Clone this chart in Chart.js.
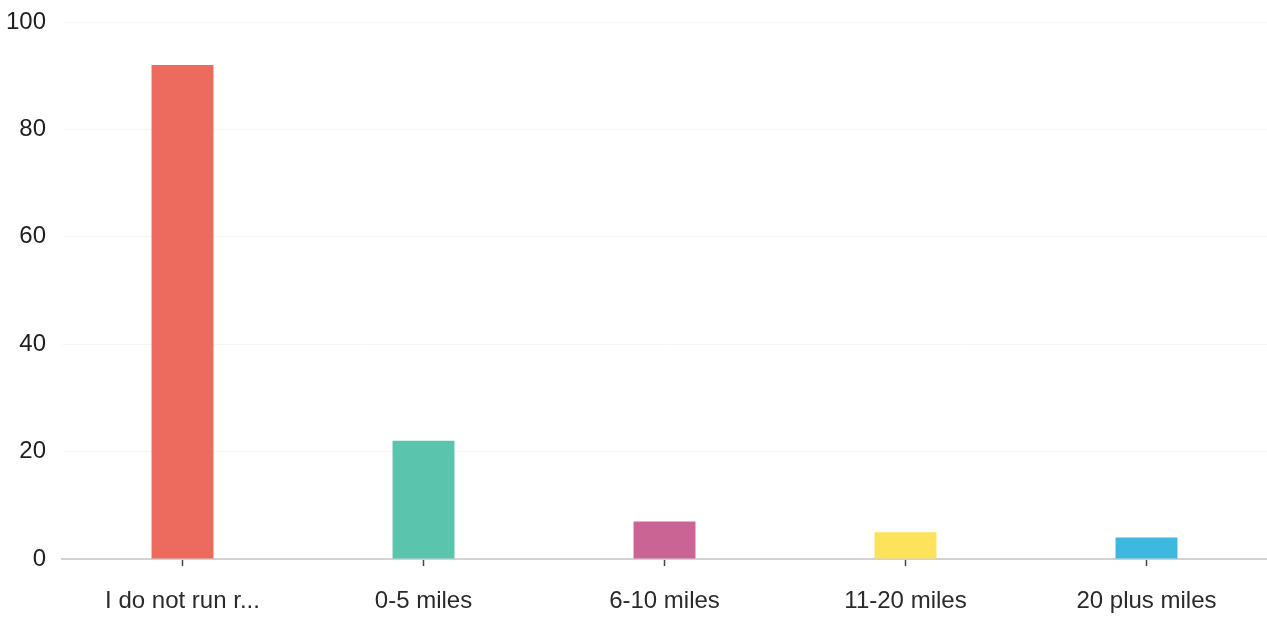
<!DOCTYPE html>
<html>
<head>
<meta charset="utf-8">
<script src="https://cdn.jsdelivr.net/npm/chart.js@4/dist/chart.umd.min.js"></script>
<style>
  html, body { margin: 0; padding: 0; background: #fff; }
  #wrap { width: 1267px; height: 622px; position: relative; }
</style>
</head>
<body>
<div id="wrap"><canvas id="c" width="1267" height="622"></canvas></div>
<script>
const categories = ["I do not run r...", "0-5 miles", "6-10 miles", "11-20 miles", "20 plus miles"];
const values = [92, 22, 7, 5, 4];
const barColors = ["#EC6A5E", "#5BC4AD", "#C96494", "#FDE35B", "#3DB8DE"];
const yTicks = [0, 20, 40, 60, 80, 100];

const FONT = "'Liberation Sans', Arial, sans-serif";

new Chart(document.getElementById('c'), {
  type: 'bar',
  data: {
    labels: categories,
    datasets: [{
      data: values,
      backgroundColor: barColors,
      borderWidth: 0,
      barPercentage: 0.257,
      categoryPercentage: 1.0
    }]
  },
  options: {
    responsive: false,
    animation: false,
    devicePixelRatio: 1,
    layout: { padding: { top: 22, right: 0, left: 0, bottom: 0 } },
    plugins: { legend: { display: false }, tooltip: { enabled: false } },
    scales: {
      x: {
        grid: { display: true, drawOnChartArea: false, drawTicks: true, tickLength: 7, tickColor: '#444', tickWidth: 1.5, offset: false },
        border: { display: true, color: '#d2d2d2', width: 2 },
        ticks: { color: '#2a2a2a', font: { family: FONT, size: 24 }, padding: 21, maxRotation: 0, autoSkip: false },
        afterFit: (s) => { s.height = 63; }
      },
      y: {
        min: 0, max: 100,
        afterBuildTicks: (s) => { s.ticks = yTicks.map(v => ({ value: v })); },
        grid: { color: 'rgba(0,0,0,0.035)', drawTicks: false, lineWidth: 1 },
        border: { display: false },
        ticks: { color: '#1e1e1e', font: { family: FONT, size: 24, lineHeight: 0.5 }, padding: 16 },
        afterFit: (s) => { s.width = 62; s.paddingTop = 0; s.paddingBottom = 0; }
      }
    }
  }
});
</script>
</body>
</html>
